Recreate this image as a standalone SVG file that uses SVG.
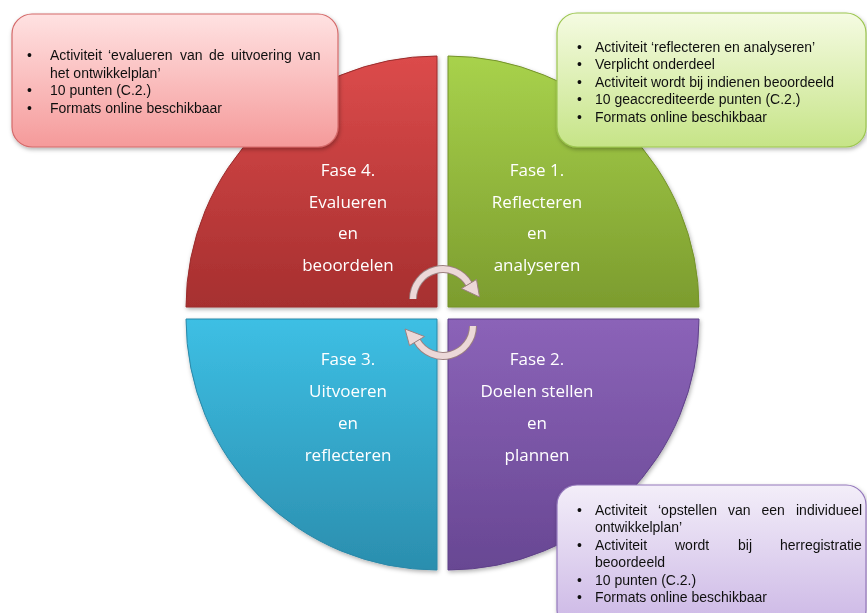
<svg xmlns="http://www.w3.org/2000/svg" width="867" height="613" viewBox="0 0 867 613">
<style>
.ph{font-family:"Open Sans","Liberation Sans",sans-serif;font-size:17px;fill:#ffffff;text-anchor:middle}
.cb{font-family:"Liberation Sans","Open Sans",sans-serif;font-size:14px;fill:#111111}
.arc{fill:none;stroke-linecap:butt}
</style>
<defs>
<linearGradient id="gRed" x1="0" y1="0" x2="0" y2="1"><stop offset="0" stop-color="#dc4b4b"/><stop offset="1" stop-color="#a62f2f"/></linearGradient>
<linearGradient id="gGreen" x1="0" y1="0" x2="0" y2="1"><stop offset="0" stop-color="#a8d24c"/><stop offset="1" stop-color="#7c9c2e"/></linearGradient>
<linearGradient id="gCyan" x1="0" y1="0" x2="0" y2="1"><stop offset="0" stop-color="#3dbfe4"/><stop offset="1" stop-color="#2b8eae"/></linearGradient>
<linearGradient id="gPurple" x1="0" y1="0" x2="0" y2="1"><stop offset="0" stop-color="#8b63b8"/><stop offset="1" stop-color="#684793"/></linearGradient>
<linearGradient id="bRed" x1="0" y1="0" x2="0" y2="1"><stop offset="0" stop-color="#ffe2e2"/><stop offset="1" stop-color="#f59a9a"/></linearGradient>
<linearGradient id="bGreen" x1="0" y1="0" x2="0" y2="1"><stop offset="0" stop-color="#f5fbe2"/><stop offset="1" stop-color="#c6e487"/></linearGradient>
<linearGradient id="bPurple" x1="0" y1="0" x2="0" y2="1"><stop offset="0" stop-color="#f3eef9"/><stop offset="1" stop-color="#cbb6e5"/></linearGradient>
<filter id="sh" x="-10%" y="-10%" width="120%" height="130%"><feDropShadow dx="1" dy="2" stdDeviation="2" flood-color="#000" flood-opacity="0.3"/></filter>
</defs>

<g id="fase4" filter="url(#sh)">
<path d="M437 307 L186 307 A251 251 0 0 1 437 56 Z" fill="url(#gRed)" stroke="#9a2c2c" stroke-width="1"/>
<text class="ph" x="348" y="176">Fase 4.</text>
<text class="ph" x="348" y="208">Evalueren</text>
<text class="ph" x="348" y="239">en</text>
<text class="ph" x="348" y="271">beoordelen</text>
</g>
<g id="fase1" filter="url(#sh)">
<path d="M448 307 L448 56 A251 251 0 0 1 699 307 Z" fill="url(#gGreen)" stroke="#74922a" stroke-width="1"/>
<text class="ph" x="537" y="176">Fase 1.</text>
<text class="ph" x="537" y="208">Reflecteren</text>
<text class="ph" x="537" y="239">en</text>
<text class="ph" x="537" y="271">analyseren</text>
</g>
<g id="fase3" filter="url(#sh)">
<path d="M437 319 L437 570 A251 251 0 0 1 186 319 Z" fill="url(#gCyan)" stroke="#2a88a8" stroke-width="1"/>
<text class="ph" x="348" y="365">Fase 3.</text>
<text class="ph" x="348" y="397">Uitvoeren</text>
<text class="ph" x="348" y="429">en</text>
<text class="ph" x="348" y="461">reflecteren</text>
</g>
<g id="fase2" filter="url(#sh)">
<path d="M448 319 L699 319 A251 251 0 0 1 448 570 Z" fill="url(#gPurple)" stroke="#5f4188" stroke-width="1"/>
<text class="ph" x="537" y="365">Fase 2.</text>
<text class="ph" x="537" y="397">Doelen stellen</text>
<text class="ph" x="537" y="429">en</text>
<text class="ph" x="537" y="461">plannen</text>
</g>

<g id="callout-fase4" filter="url(#sh)">
<rect x="12" y="14" width="326" height="133" rx="20" fill="url(#bRed)" stroke="#d46a6a" stroke-width="1.2"/>
<text class="cb" x="27" y="60">•</text>
<text class="cb" y="60"><tspan x="50">Activiteit</tspan><tspan x="108">‘evalueren</tspan><tspan x="180">van</tspan><tspan x="209">de</tspan><tspan x="231">uitvoering</tspan><tspan x="298">van</tspan></text>
<text class="cb" x="50" y="77.5">het ontwikkelplan’</text>
<text class="cb" x="27" y="95">•</text>
<text class="cb" x="50" y="95">10 punten (C.2.)</text>
<text class="cb" x="27" y="113">•</text>
<text class="cb" x="50" y="113">Formats online beschikbaar</text>
</g>

<g id="callout-fase1" filter="url(#sh)">
<rect x="557" y="13" width="309" height="134" rx="20" fill="url(#bGreen)" stroke="#9cc650" stroke-width="1.2"/>
<text class="cb" x="577" y="52">•</text>
<text class="cb" x="595" y="52">Activiteit ‘reflecteren en analyseren’</text>
<text class="cb" x="577" y="69">•</text>
<text class="cb" x="595" y="69">Verplicht onderdeel</text>
<text class="cb" x="577" y="86.5">•</text>
<text class="cb" x="595" y="86.5">Activiteit wordt bij indienen beoordeeld</text>
<text class="cb" x="577" y="104">•</text>
<text class="cb" x="595" y="104">10 geaccrediteerde punten (C.2.)</text>
<text class="cb" x="577" y="121.5">•</text>
<text class="cb" x="595" y="121.5">Formats online beschikbaar</text>
</g>

<g id="callout-fase2" filter="url(#sh)">
<rect x="557" y="485" width="309" height="145" rx="20" fill="url(#bPurple)" stroke="#9478bc" stroke-width="1.2"/>
<text class="cb" x="577" y="515">•</text>
<text class="cb" y="515"><tspan x="595">Activiteit</tspan><tspan x="658">‘opstellen</tspan><tspan x="728">van</tspan><tspan x="761.5">een</tspan><tspan x="796">individueel</tspan></text>
<text class="cb" x="595" y="532">ontwikkelplan’</text>
<text class="cb" x="577" y="549.5">•</text>
<text class="cb" y="549.5"><tspan x="595">Activiteit</tspan><tspan x="675">wordt</tspan><tspan x="738">bij</tspan><tspan x="780">herregistratie</tspan></text>
<text class="cb" x="595" y="567">beoordeeld</text>
<text class="cb" x="577" y="584.5">•</text>
<text class="cb" x="595" y="584.5">10 punten (C.2.)</text>
<text class="cb" x="577" y="602">•</text>
<text class="cb" x="595" y="602">Formats online beschikbaar</text>
</g>

<g id="connectors">
<path class="arc" d="M413 299 A30 30 0 0 1 468.9 284" stroke="#9c8080" stroke-width="8"/>
<path class="arc" d="M413 299 A30 30 0 0 1 468.9 284" stroke="#ecd8d8" stroke-width="6"/>
<polygon points="476.5,279.5 461.5,288.5 479.5,297" fill="#ecd8d8" stroke="#9c8080" stroke-width="1"/>
<path class="arc" d="M473 326 A30 30 0 0 1 417.1 341" stroke="#9c8080" stroke-width="8"/>
<path class="arc" d="M473 326 A30 30 0 0 1 417.1 341" stroke="#ecd8d8" stroke-width="6"/>
<polygon points="409.5,345.5 424.5,336.5 405,329" fill="#ecd8d8" stroke="#9c8080" stroke-width="1"/>
</g>
</svg>
